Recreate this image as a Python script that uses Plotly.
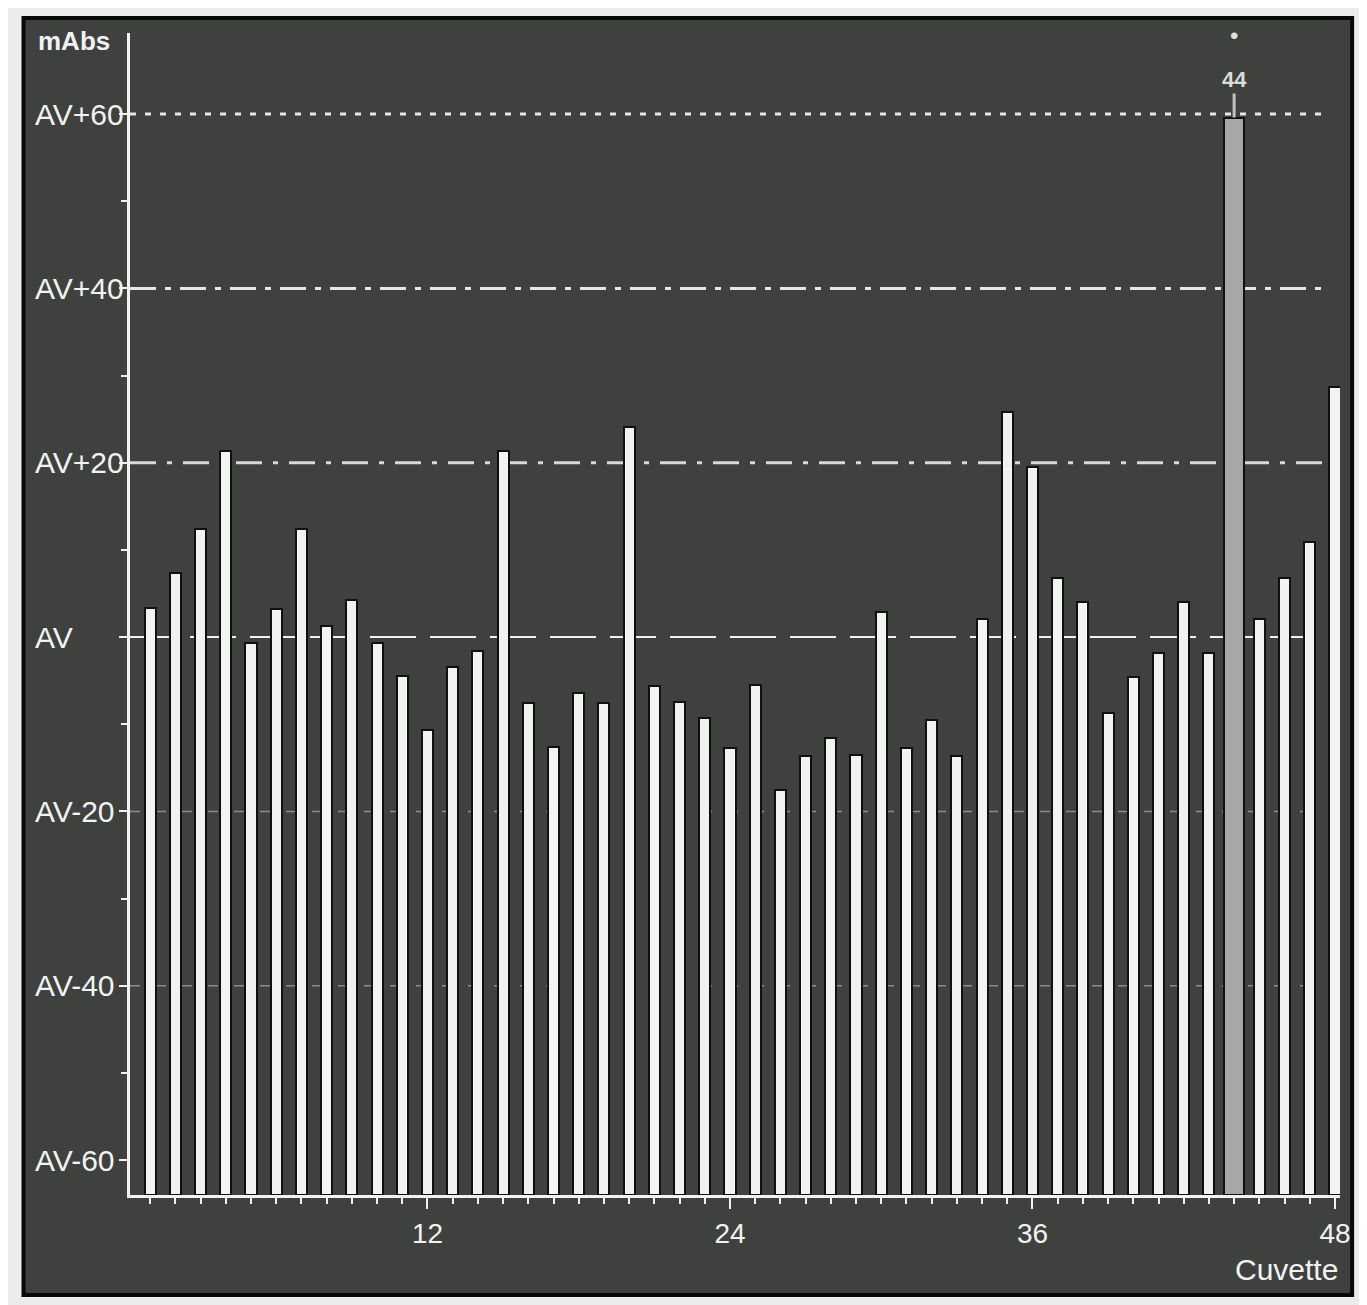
import plotly.graph_objects as go

# ---------------- data ----------------
cuvettes = list(range(1, 49))
values = [3.3, 7.3, 12.4, 21.4, -0.7, 3.2, 12.4, 1.3, 4.2, -0.7,
          -4.5, -10.7, -3.4, -1.6, 21.4, -7.6, -12.6, -6.4, -7.6, 24.1,
          -5.6, -7.5, -9.3, -12.7, -5.5, -17.5, -13.6, -11.6, -13.5, 2.9,
          -12.7, -9.5, -13.6, 2.1, 25.8, 19.5, 6.8, 4.0, -8.7, -4.6,
          -1.8, 4.0, -1.8, 59.6, 2.1, 6.8, 10.9, 28.7]
highlight_cuvette = 44
x_tick_vals = [12, 24, 36, 48]
x_tick_text = ["12", "24", "36", "48"]
y_tick_vals = [-60, -40, -20, 0, 20, 40, 60]
y_tick_text = ["AV-60", "AV-40", "AV-20", "AV", "AV+20", "AV+40", "AV+60"]
y_minor_vals = [-50, -30, -10, 10, 30, 50]
ref_levels = [60, 40, 20, 0, -20, -40]
y_title = "mAbs"
x_title = "Cuvette"

# ---------------- styling ----------------
Y_MIN, Y_MAX = -64, 69.3
X_MIN, X_MAX = 0.2, 48.2
FONT = "Liberation Sans"
WHITE = "#f2f2f2"

colors = ["#a6a8a6" if c == highlight_cuvette else WHITE for c in cuvettes]
widths = [0.8 if c == highlight_cuvette else 0.44 for c in cuvettes]
lengths = [v - Y_MIN for v in values]

fig = go.Figure()
fig.add_trace(go.Bar(
    x=cuvettes, y=lengths, base=Y_MIN, width=widths,
    marker=dict(color=colors, line=dict(color="#101010", width=2)),
    customdata=values, hovertemplate="Cuvette %{x}: AV%{customdata:+.1f}<extra></extra>",
))

ref_styles = {
    60: dict(dash="6px,9px", width=3, color="#e6e6e6", x1=47.6),
    40: dict(dash="26px,9px,6px,9px", width=3, color="#e6e6e6", x1=47.6),
    20: dict(dash="26px,11px,5px,11px", width=3, color="#d8d8d8", x1=47.6),
    0: dict(dash="46px,14px", width=2, color="#f0f0f0", x1=X_MAX),
    -20: dict(dash="10px,16px", width=1.5, color="#8c8c8c", x1=47.6),
    -40: dict(dash="10px,16px", width=1.5, color="#8c8c8c", x1=47.6),
}

shapes = [
    # dark instrument panel behind the whole chart
    dict(type="rect", xref="paper", yref="paper",
         x0=-0.088, x1=1.01, y0=-0.086, y1=1.013,
         fillcolor="#3f413f", line=dict(color="#080808", width=4), layer="below"),
]
for lvl in ref_levels:
    s = ref_styles[lvl]
    shapes.append(dict(type="line", xref="x", yref="y", x0=X_MIN, x1=s["x1"], y0=lvl, y1=lvl,
                       line=dict(color=s["color"], width=s["width"], dash=s["dash"]),
                       layer="below"))

annotations = []
for v, t in zip(y_tick_vals, y_tick_text):
    annotations.append(dict(xref="paper", yref="y", x=-0.08, y=v, text=t,
                            showarrow=False, xanchor="left", yanchor="middle",
                            font=dict(family=FONT, size=30, color=WHITE)))
annotations.append(dict(xref="paper", yref="paper", x=-0.078, y=0.993, text="<b>" + y_title + "</b>",
                        showarrow=False, xanchor="left", yanchor="middle",
                        font=dict(family=FONT, size=26, color=WHITE)))
annotations.append(dict(xref="paper", yref="paper", x=0.956, y=-0.064, text=x_title,
                        showarrow=False, xanchor="center", yanchor="middle",
                        font=dict(family=FONT, size=30, color=WHITE)))
hv = values[cuvettes.index(highlight_cuvette)]
annotations.append(dict(xref="x", yref="y", x=highlight_cuvette, y=hv,
                        text="<b>" + str(highlight_cuvette) + "</b>", showarrow=True, ax=0, ay=-38,
                        arrowhead=0, arrowwidth=3, arrowcolor="#c0c0c0",
                        font=dict(family=FONT, size=22, color="#dcdcdc")))
annotations.append(dict(xref="x", yref="y", x=highlight_cuvette, y=hv,
                        text="•", showarrow=False, yshift=82,
                        font=dict(family=FONT, size=24, color="#e0e0e0")))

fig.update_layout(
    width=1367, height=1305,
    margin=dict(l=122, r=35, t=25, b=118),
    paper_bgcolor="#ececec",
    plot_bgcolor="#353735",
    showlegend=False,
    shapes=shapes,
    annotations=annotations,
    bargap=0,
)
fig.update_xaxes(
    range=[X_MIN, X_MAX], showgrid=False, zeroline=False,
    showline=True, linecolor=WHITE, linewidth=3,
    tickmode="array", tickvals=x_tick_vals, ticktext=x_tick_text,
    ticks="outside", ticklen=11, tickwidth=2, tickcolor=WHITE,
    ticklabelstandoff=0,
    minor=dict(tickvals=[c for c in cuvettes if c not in x_tick_vals],
               ticks="outside", ticklen=6, tickwidth=2, tickcolor=WHITE),
    tickfont=dict(family=FONT, size=28, color=WHITE),
)
fig.update_yaxes(
    range=[Y_MIN, Y_MAX], showgrid=False, zeroline=False,
    showline=True, linecolor=WHITE, linewidth=3,
    tickmode="array", tickvals=y_tick_vals, showticklabels=False,
    ticks="outside", ticklen=8, tickwidth=2, tickcolor=WHITE,
    minor=dict(tickvals=y_minor_vals, ticks="outside", ticklen=6,
               tickwidth=2, tickcolor=WHITE),
)

fig.write_html("out.html")
